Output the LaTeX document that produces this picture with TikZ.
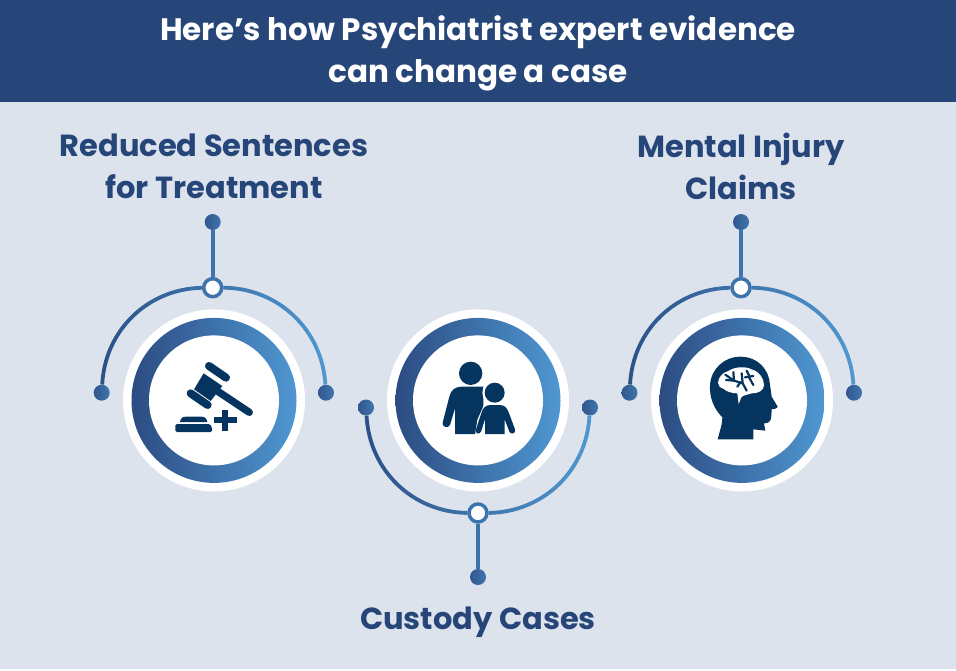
\documentclass[tikz,border=0pt]{standalone}
\usepackage{fontspec}
\setmainfont{Poppins}
\definecolor{headerblue}{HTML}{264679}
\definecolor{pageblue}{HTML}{DDE3ED}
\definecolor{ringdark}{HTML}{2C4C82}
\definecolor{ringlight}{HTML}{4F97D1}
\definecolor{icondark}{HTML}{05355F}
\definecolor{linedark}{HTML}{2C5288}
\definecolor{linelight}{HTML}{5097D0}
\tikzset{
  halo/.style={circle,fill=white,inner sep=0pt,minimum size=182},
  ring/.style={circle,left color=ringdark,right color=ringlight,inner sep=0pt,minimum size=165},
  hub/.style={circle,fill=white,inner sep=0pt,minimum size=130},
  dot/.style={circle,left color=ringdark!85!ringlight,right color=ringdark!45!ringlight,inner sep=0pt,minimum size=16},
  joint/.style={circle,draw=linedark!50!linelight,line width=3.5,fill=white,inner sep=0pt,minimum size=18},
  stem/.style={draw=linedark!50!linelight,line width=4},
  arcline/.style={line width=3.8},
  heading/.style={text=headerblue,font=\fontsize{30.5}{42}\selectfont\bfseries,align=center},
  title/.style={text=white,font=\fontsize{31}{42}\selectfont\bfseries,align=center},
  icon/.style={fill=icondark,draw=none},
  branch/.style={icondark,line width=2.2,line cap=round}
}
% one arc pair drawn in vertical strips, dark on the left, light on the right
\newcommand{\arcstrips}[5]{
  \foreach \k in {0,...,28} {
    \pgfmathtruncatemacro{\pct}{100-\k*100/28}
    \begin{scope}
      \clip (#5+8*\k,0) rectangle (#5+8*\k+8,670);
      \draw[arcline,linedark!\pct!linelight] (#1) to[bend #4=43] (#2);
      \draw[arcline,linedark!\pct!linelight] (#2) to[bend #4=43] (#3);
    \end{scope}
  }
}
\begin{document}
\begin{tikzpicture}[x=1pt,y=-1pt]
  \useasboundingbox (0,0) rectangle (956,670);
  \fill[pageblue] (0,0) rectangle (956,669);
  \fill[headerblue] (0,0) rectangle (956,102);
  \node[title] (titletext) at (478,53.5) {Here’s how Psychiatrist expert evidence\\can change a case};
  \node[heading] (label1) at (214,166) {Reduced Sentences\\for Treatment};
  \node[heading] (label2) at (741,166) {Mental Injury\\Claims};
  \node[heading] (label3) at (478,622.5) {Custody Cases};
  % rings
  \foreach \n/\x in {1/214,2/478,3/742} {
    \node[halo] (halo\n) at (\x,400.4) {};
    \node[ring] (ring\n) at (\x,400.4) {};
    \node[hub] (hub\n) at (\x,400.4) {};
  }
  % joints and dots
  \node[joint] (joint1) at (212.7,287.7) {};
  \node[joint] (joint2) at (478,513) {};
  \node[joint] (joint3) at (741,287.7) {};
  \node[dot] (tip1) at (212.7,222) {};
  \node[dot] (tip2) at (478,577) {};
  \node[dot] (tip3) at (741,222) {};
  \node[dot] (left1) at (101.7,392.7) {};
  \node[dot] (right1) at (326,392.7) {};
  \node[dot] (left2) at (366,407.5) {};
  \node[dot] (right2) at (590,407.5) {};
  \node[dot] (left3) at (629.5,392.7) {};
  \node[dot] (right3) at (854,392.7) {};
  \draw[stem] (tip1) -- (joint1);
  \draw[stem] (tip2) -- (joint2);
  \draw[stem] (tip3) -- (joint3);
  \arcstrips{left1}{joint1}{right1}{left}{100}
  \arcstrips{left2}{joint2}{right2}{right}{364}
  \arcstrips{left3}{joint3}{right3}{left}{628}
  % gavel
  \begin{scope}[shift={(160,350)},scale=1/3]
    \draw[icondark,line width=8,line cap=round] (147,48) -- (198,83);
    \draw[icondark,line width=8,line cap=round] (92,130) -- (143,165);
    \fill[icon] (131,70) -- (187,108) -- (152,153) -- (102,118) -- cycle;
    \draw[icondark,line width=7.3,line cap=round] (175,125) -- (268,187);
    \fill[icon] (60,216) .. controls (62,204) and (68,200) .. (78,200) -- (125,200) .. controls (135,200) and (140,206) .. (142,216) -- cycle;
    \fill[icon,rounded corners=1.5] (46,246) -- (46,222) -- (150,222) -- (156,232) -- (156,246) -- cycle;
    \fill[icon] (185,180) rectangle (204,242);
    \fill[icon] (162,201) rectangle (230,220);
  \end{scope}
  % adult and child
  \begin{scope}[shift={(420,340)},scale=1/3]
    \fill[icon] (152,100) circle[radius=35];
    \fill[icon] (125,140) -- (190,140) -- (190,282) -- (105,282) -- (105,205) -- (90,255) .. controls (85,266) and (65,262) .. (68,248) -- (88,170) .. controls (93,150) and (105,140) .. (125,140) -- cycle;
    \fill[white] (224,158) circle[radius=37];
    \fill[white] (165,285) -- (172,240) -- (195,188) -- (255,188) -- (290,285) -- cycle;
    \fill[icon] (224,158) circle[radius=30];
    \fill[icon] (212,195) -- (240,195) .. controls (258,195) and (262,208) .. (268,222) -- (285,268) .. controls (288,282) and (272,285) .. (268,275) -- (254,238) -- (254,282) -- (195,282) -- (195,238) -- (183,275) .. controls (178,285) and (164,282) .. (168,268) -- (183,222) .. controls (188,205) and (195,195) .. (212,195) -- cycle;
  \end{scope}
  % head and brain
  \begin{scope}[shift={(690,340)},scale=1/3]
    \fill[icon] (83,298) .. controls (90,270) and (98,250) .. (97,232) .. controls (70,205) and (58,170) .. (60,135) .. controls (63,85) and (105,50) .. (150,50) .. controls (205,50) and (238,90) .. (240,135) -- (245,170) -- (263,200) .. controls (262,206) and (250,208) .. (245,208) -- (244,228) .. controls (243,245) and (235,250) .. (222,250) -- (226,272) -- (190,268) -- (190,298) -- cycle;
    \fill[white] (84,128) .. controls (86,110) and (98,98) .. (115,93) .. controls (135,80) and (165,78) .. (185,88) .. controls (208,95) and (222,115) .. (222,135) .. controls (222,152) and (205,160) .. (185,160) .. controls (170,165) and (160,165) .. (154,172) -- (146,192) -- (142,160) .. controls (125,160) and (110,155) .. (100,146) .. controls (90,144) and (84,136) .. (84,128) -- cycle;
    \draw[branch] (106,104) -- (132,122) -- (158,130) -- (170,152);
    \draw[branch] (132,122) -- (108,120);
    \draw[branch] (132,122) -- (130,96);
    \draw[branch] (152,126) -- (142,140);
    \draw[branch] (158,130) -- (155,100);
    \draw[branch] (165,112) -- (190,108);
    \draw[branch] (170,92) -- (178,108);
    \draw[branch] (176,110) -- (190,135);
  \end{scope}
\end{tikzpicture}
\end{document}
